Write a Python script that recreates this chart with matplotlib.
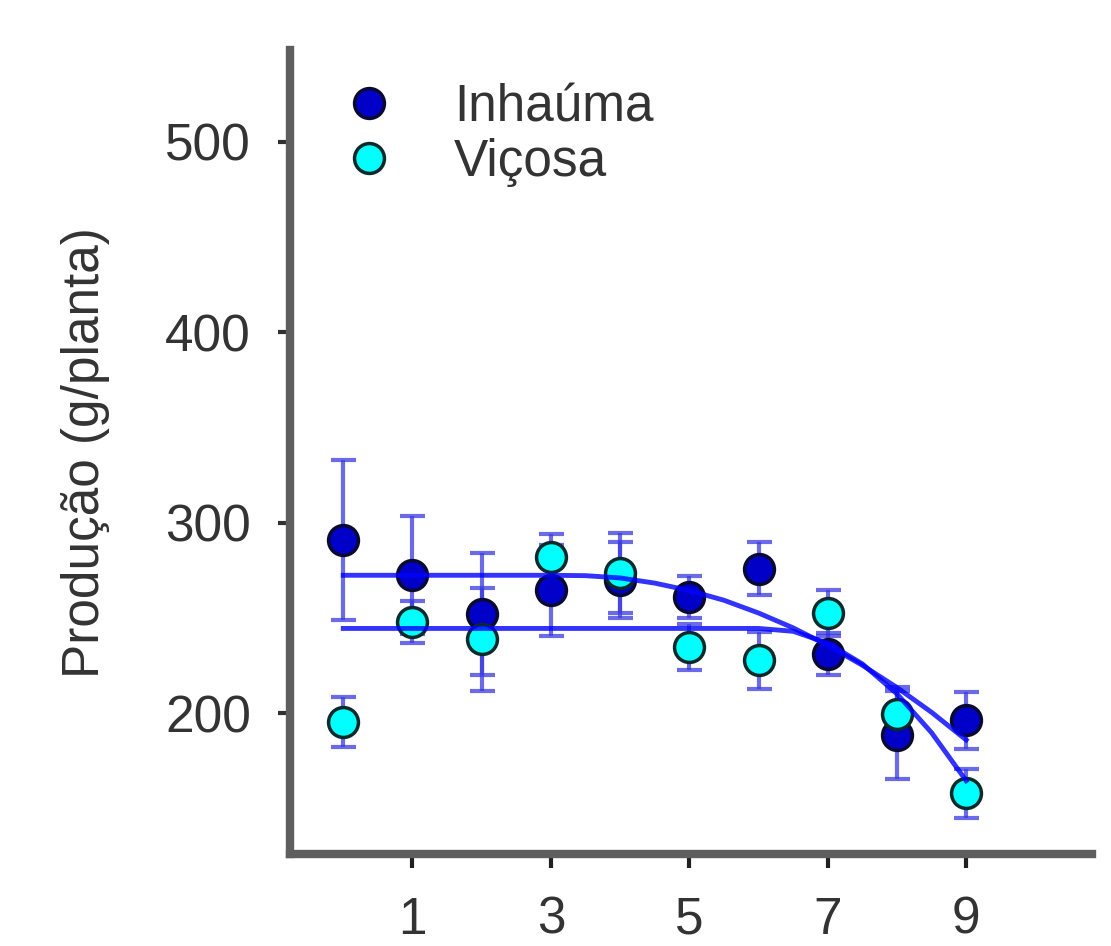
import matplotlib
matplotlib.use("Agg")
import matplotlib.pyplot as plt

# doses / time points on the x axis
x = [0, 1, 2, 3, 4, 5, 6, 7, 8, 9]

# Inhaúma: mean yield and error
inh_mean = [290.7, 272.4, 252.3, 264.5, 270.0, 261.0, 275.8, 231.3, 188.5, 196.3]
inh_err = [42, 31, 32, 24, 20, 11, 14, 11, 23, 15]

# Viçosa: mean yield and error
vic_mean = [195.4, 247.9, 238.8, 282.0, 273.6, 234.8, 227.8, 252.7, 199.8, 157.9]
vic_err = [13, 11, 27, 12, 21, 12, 15, 12, 14, 13]

# fitted curves
inh_fit_x = [0, 3.0, 3.5, 4.0, 4.5, 5.0, 5.5, 6.0, 6.5, 7.0, 7.5, 8.0, 8.5, 9.0]
inh_fit_y = [272.4, 272.4, 272.2, 271.0, 268.3, 264.4, 259.3, 252.6, 244.8, 235.6, 225.2, 213.5, 200.5, 186.0]
vic_fit_x = [0, 6.0, 6.5, 7.0, 7.5, 8.0, 8.5, 9.0]
vic_fit_y = [244.5, 244.5, 243.0, 236.8, 225.9, 210.2, 189.8, 164.6]

yticks = [200, 300, 400, 500]
xticks = [1, 3, 5, 7, 9]

plt.rcParams['font.family'] = ['Liberation Sans', 'DejaVu Sans']
txt = '#333333'

fig = plt.figure(figsize=(11.11, 9.46), dpi=100)
ax = fig.add_axes([0.261, 0.097, 0.722, 0.850])

ebar = dict(fmt='none', ecolor='#3a3ae0', elinewidth=3, capsize=9, capthick=3, alpha=0.75, zorder=2)
ax.errorbar(x, inh_mean, yerr=inh_err, **ebar)
ax.errorbar(x, vic_mean, yerr=vic_err, **ebar)

ax.plot(x, inh_mean, 'o', ms=21.5, mfc='#0000c8', mec='#0a0a30', mew=2.5, zorder=3, label='Inhaúma')
ax.plot(x, vic_mean, 'o', ms=21.5, mfc='#00ffff', mec='#0a2a2a', mew=2.5, zorder=4, label='Viçosa')

ax.plot(inh_fit_x, inh_fit_y, color='#0000ff', lw=3.5, alpha=0.8, zorder=5)
ax.plot(vic_fit_x, vic_fit_y, color='#0000ff', lw=3.5, alpha=0.8, zorder=5)

ax.set_xlim(-0.77, 10.82)
ax.set_ylim(126, 548)
ax.set_xticks(xticks)
ax.set_yticks(yticks)

for s in ['top', 'right']:
    ax.spines[s].set_visible(False)
for s in ['left', 'bottom']:
    ax.spines[s].set_color('#5e5e5e')
    ax.spines[s].set_linewidth(6)

ax.tick_params(axis='y', length=9, width=3, color='#303030', pad=19, labelsize=37, labelcolor=txt)
ax.tick_params(axis='x', length=10, width=3, color='#202020', pad=20, labelsize=37, labelcolor=txt)

ax.set_ylabel('Produção (g/planta)', fontsize=37, color=txt, labelpad=40)

ax.legend(loc='upper left', bbox_to_anchor=(0.035, 0.991), frameon=False, fontsize=37,
          handlelength=1.0, handletextpad=1.15, labelspacing=0.12, borderpad=0,
          labelcolor=txt)

fig.savefig('out.png', dpi=100)
